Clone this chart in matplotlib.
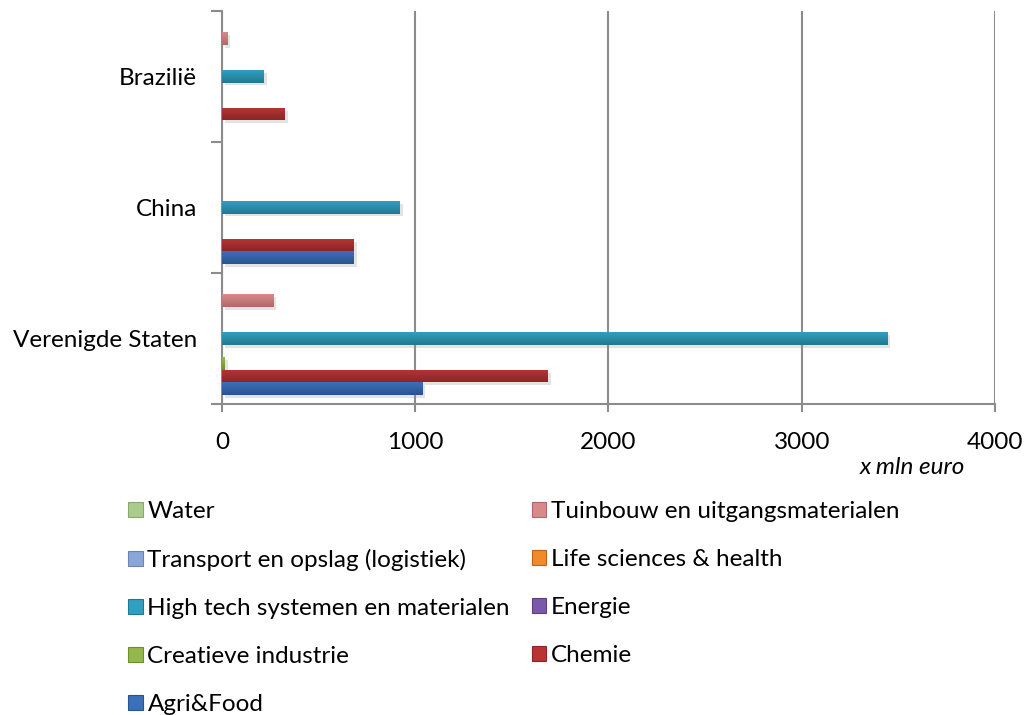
import numpy as np
import matplotlib
matplotlib.use("Agg")
import matplotlib.pyplot as plt
import matplotlib.patheffects as pe
from matplotlib.patches import Patch
from matplotlib.colors import to_rgb

plt.rcParams["font.family"] = ["Lato", "DejaVu Sans"]

# export per land, x mln euro, per topsector (van onder naar boven in de groep)
landen = ["Verenigde Staten", "China", "Brazilië"]
sectoren = [
    "Agri&Food",
    "Chemie",
    "Creatieve industrie",
    "Energie",
    "High tech systemen en materialen",
    "Life sciences & health",
    "Transport en opslag (logistiek)",
    "Tuinbouw en uitgangsmaterialen",
    "Water",
]
agri_food = [1035, 683, 0]
chemie = [1687, 683, 326]
creatieve_industrie = [15, 0, 0]
energie = [0, 0, 0]
high_tech = [3445, 921, 217]
life_sciences = [0, 0, 0]
transport = [0, 0, 0]
tuinbouw = [264, 0, 26]
water = [0, 0, 0]

waarden = [agri_food, chemie, creatieve_industrie, energie, high_tech,
           life_sciences, transport, tuinbouw, water]

# (licht boven, donker onder) per sector
kleuren = [
    ("#3a70b8", "#2a5490"),
    ("#b83434", "#8c2626"),
    ("#94b84a", "#6e8f2c"),
    ("#7a5aa8", "#5a3f82"),
    ("#2fa0c0", "#22798f"),
    ("#f08a2a", "#c0621a"),
    ("#8aa6d6", "#6a84b4"),
    ("#d88a8a", "#b06868"),
    ("#aacb8c", "#88a86c"),
]

fig = plt.figure(figsize=(10.25, 7.15), dpi=100)
ax = fig.add_axes([0.2166, 0.435, 0.7541, 0.5499])

y = np.arange(len(landen))
h = 0.096
grijs = "#8c8c8c"
fs = 17.5

for i, (vals, (licht, donker)) in enumerate(zip(waarden, kleuren)):
    bars = ax.barh(y + (i - 4) * h, vals, height=h, color=licht,
                   edgecolor="none", zorder=3,
                   path_effects=[pe.SimplePatchShadow(offset=(2, -2), shadow_rgbFace="#909090", alpha=0.25),
                                 pe.Normal()])
    # verticale kleurverloop in elke balk
    grad = np.linspace(0, 1, 32)[:, None]
    c0, c1 = np.array(to_rgb(licht)), np.array(to_rgb(donker))
    img = (c0 * (1 - grad[..., None]) + c1 * grad[..., None])
    for b in bars:
        if b.get_width() <= 0:
            continue
        x0, y0 = b.get_x(), b.get_y()
        im = ax.imshow(img, extent=(x0, x0 + b.get_width(), y0, y0 + b.get_height()),
                       origin="upper", aspect="auto", zorder=4, interpolation="bilinear")
        im.set_clip_path(b)

ax.set_xlim(0, 4000)
ax.set_ylim(-0.5, 2.5)
ax.set_xticks([0, 1000, 2000, 3000, 4000])
ax.set_yticks(y)
ax.set_yticklabels(landen)
ax.set_yticks([-0.5, 0.5, 1.5, 2.5], minor=True)
ax.tick_params(axis="y", which="major", length=0, pad=18, labelsize=fs)
ax.tick_params(axis="y", which="minor", length=8, width=1.5, color=grijs, direction="out")
ax.tick_params(axis="x", length=6, width=1.5, color=grijs, pad=14, labelsize=fs)
ax.grid(axis="x", color=grijs, linewidth=1.5, zorder=0)
ax.set_axisbelow(True)
for s in ["top", "right"]:
    ax.spines[s].set_visible(False)
for s in ["left", "bottom"]:
    ax.spines[s].set_color(grijs)
    ax.spines[s].set_linewidth(1.5)

fig.text(965 / 1025, 1 - 467 / 715, "x mln euro", style="italic", fontsize=fs,
         ha="right", va="center")

handles = [Patch(facecolor=k[0], edgecolor=k[1], linewidth=0.8) for k in kleuren]
volgorde = [8, 6, 4, 2, 0, 7, 5, 3, 1]
fig.legend([handles[i] for i in volgorde], [sectoren[i] for i in volgorde],
           ncol=2, loc="upper left", bbox_to_anchor=(128 / 1025, 1 - 501 / 715),
           frameon=False, fontsize=fs, handlelength=0.6, handleheight=0.6,
           handletextpad=0.2, labelspacing=1.11, columnspacing=0.89,
           borderpad=0, borderaxespad=0)

fig.savefig("out.png", dpi=100)
